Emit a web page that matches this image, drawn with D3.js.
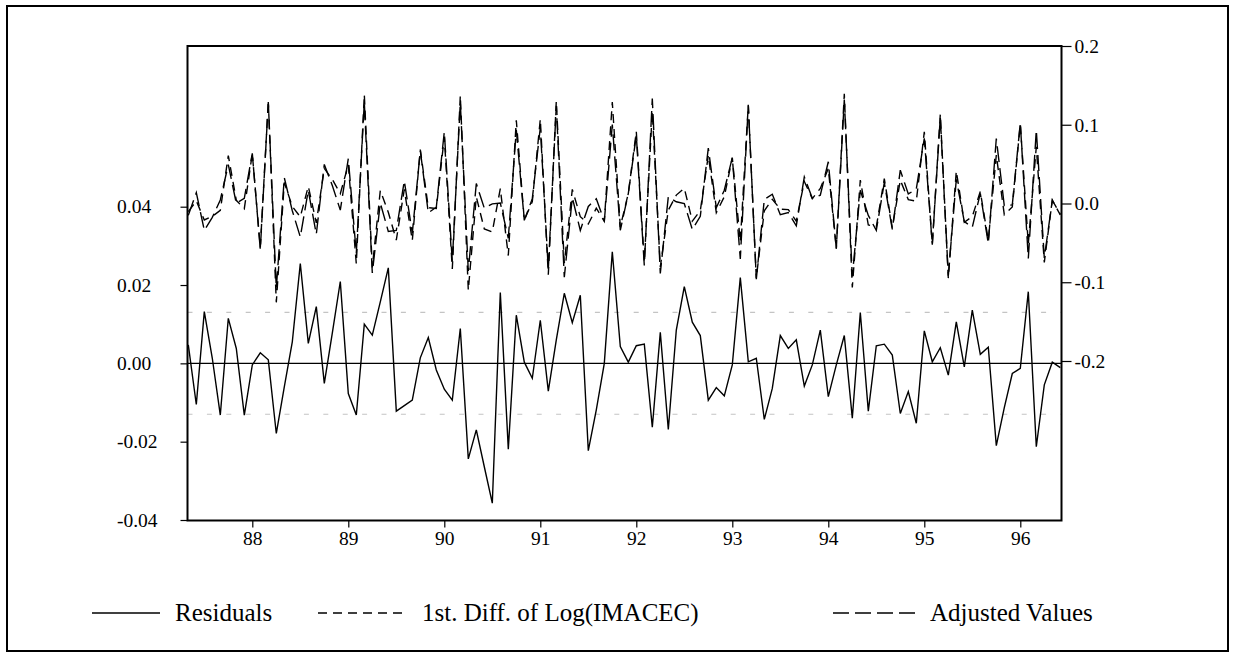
<!DOCTYPE html>
<html>
<head>
<meta charset="utf-8">
<script src="https://cdn.jsdelivr.net/npm/d3@7"></script>
<style>
  body { margin: 0; background: #fff; }
  text { font-family: "Liberation Serif", "Times New Roman", serif; font-size: 19.5px; fill: #000; }
</style>
</head>
<body>
<div id="chart-area"></div>
<script>
// monthly observations, 1987:05 - 1996:06 (index 0 = 1987:05)
var residuals = [
  0.0047, -0.0105, 0.0132, 0.0013, -0.0132, 0.0115, 0.0038, -0.0132, -0.0004, 0.0027,
  0.0009, -0.0179, -0.0060, 0.0055, 0.0255, 0.0051, 0.0145, -0.0051, 0.0077, 0.0209,
  -0.0077, -0.0132, 0.0100, 0.0072, 0.0157, 0.0244, -0.0122, -0.0108, -0.0094, 0.0014,
  0.0066, -0.0017, -0.0066, -0.0094, 0.0089, -0.0244, -0.0170, -0.0264, -0.0357, 0.0181,
  -0.0219, 0.0123, 0.0003, -0.0038, 0.0110, -0.0071, 0.0060, 0.0179, 0.0104, 0.0174,
  -0.0223, -0.0119, 0.0000, 0.0285, 0.0043, 0.0003, 0.0045, 0.0049, -0.0163, 0.0079,
  -0.0169, 0.0085, 0.0196, 0.0105, 0.0071, -0.0094, -0.0062, -0.0083, -0.0004, 0.0219,
  0.0004, 0.0013, -0.0143, -0.0064, 0.0071, 0.0038, 0.0060, -0.0058, -0.0004, 0.0085,
  -0.0085, -0.0004, 0.0071, -0.0140, 0.0130, -0.0122, 0.0045, 0.0049, 0.0021, -0.0128,
  -0.0072, -0.0153, 0.0083, 0.0004, 0.0040, -0.0030, 0.0106, -0.0009, 0.0136, 0.0023,
  0.0041, -0.0210, -0.0113, -0.0026, -0.0013, 0.0183, -0.0213, -0.0055, 0.0003, -0.0011
];

var actual = [
  -0.0104, 0.0033, -0.0209, -0.0163, -0.0087, 0.0609, 0.0040, -0.0066, 0.0634, -0.0559,
  0.1297, -0.1255, 0.0267, -0.0037, -0.0170, 0.0217, -0.0246, 0.0445, 0.0306, 0.0126,
  0.0492, -0.0765, 0.1385, -0.0811, 0.0164, -0.0111, -0.0464, 0.0179, -0.0471, 0.0685,
  -0.0052, -0.0064, 0.0844, -0.0831, 0.1371, -0.1101, 0.0084, -0.0323, -0.0361, 0.0188,
  -0.0661, 0.1058, -0.0211, 0.0023, 0.1072, -0.0905, 0.1301, -0.0758, 0.0179, -0.0167,
  -0.0260, -0.0060, -0.0225, 0.1287, -0.0297, 0.0129, 0.0913, -0.0739, 0.1169, -0.0808,
  -0.0085, 0.0107, 0.0195, -0.0223, -0.0092, 0.0610, -0.0116, 0.0086, 0.0579, -0.0484,
  0.1252, -0.0947, -0.0093, 0.0053, -0.0071, -0.0078, -0.0224, 0.0280, 0.0062, 0.0191,
  0.0445, -0.0574, 0.1392, -0.1066, 0.0298, -0.0273, -0.0296, 0.0315, -0.0308, 0.0296,
  0.0049, 0.0030, 0.0911, -0.0519, 0.1134, -0.0947, 0.0413, -0.0238, -0.0165, 0.0152,
  -0.0467, 0.0615, -0.0142, -0.0043, 0.1011, -0.0515, 0.0720, -0.0748, 0.0044, -0.0146
];

var fitted = [
  -0.0151, 0.0138, -0.0341, -0.0176, 0.0045, 0.0494, 0.0002, 0.0066, 0.0638, -0.0586,
  0.1288, -0.1076, 0.0327, -0.0092, -0.0425, 0.0166, -0.0391, 0.0496, 0.0229, -0.0084,
  0.0569, -0.0633, 0.1285, -0.0883, 0.0007, -0.0355, -0.0342, 0.0287, -0.0377, 0.0671,
  -0.0118, -0.0047, 0.0910, -0.0737, 0.1282, -0.0857, 0.0254, -0.0059, -0.0004, 0.0007,
  -0.0442, 0.0935, -0.0214, 0.0061, 0.0962, -0.0834, 0.1241, -0.0937, 0.0075, -0.0341,
  -0.0037, 0.0060, -0.0225, 0.1002, -0.0340, 0.0126, 0.0868, -0.0788, 0.1332, -0.0887,
  0.0085, 0.0022, -0.0001, -0.0328, -0.0163, 0.0704, -0.0054, 0.0169, 0.0583, -0.0703,
  0.1248, -0.0960, 0.0051, 0.0117, -0.0142, -0.0116, -0.0284, 0.0338, 0.0066, 0.0106,
  0.0530, -0.0570, 0.1321, -0.0926, 0.0168, -0.0151, -0.0341, 0.0266, -0.0329, 0.0424,
  0.0121, 0.0183, 0.0828, -0.0523, 0.1094, -0.0917, 0.0307, -0.0229, -0.0301, 0.0129,
  -0.0508, 0.0825, -0.0029, -0.0017, 0.1024, -0.0698, 0.0933, -0.0693, 0.0041, -0.0135
];

// January of each year, as index into the monthly series
var yearTicks = [8, 20, 32, 44, 56, 68, 80, 92, 104];
var yearLabels = ["88", "89", "90", "91", "92", "93", "94", "95", "96"];

var leftTicks = [-0.04, -0.02, 0, 0.02, 0.04];
var leftLabels = ["-0.04", "-0.02", "0.00", "0.02", "0.04"];
var rightTicks = [-0.2, -0.1, 0, 0.1, 0.2];
var rightLabels = ["-0.2", "-0.1", "0.0", "0.1", "0.2"];

var residSE = 0.013;
var legendNames = ["Residuals", "1st. Diff. of Log(IMACEC)", "Adjusted Values"];

// plot frame
var pLeft = 187.5, pRight = 1061.5, pTop = 46, pBottom = 520.5;

var svg = d3.select("#chart-area").append("svg")
    .attr("width", 1235)
    .attr("height", 660);

// outer border
svg.append("rect")
    .attr("x", 7).attr("y", 6)
    .attr("width", 1221).attr("height", 645)
    .attr("fill", "none").attr("stroke", "#000").attr("stroke-width", 2);

var x = d3.scaleLinear()
    .domain([0, residuals.length - 1])
    .range([188.3, 1060.3]);

var yL = d3.scaleLinear()
    .domain([-0.04, 0.04])
    .range([520, 206.7]);

var yR = d3.scaleLinear()
    .domain([-0.2, 0.2])
    .range([361, 46]);

svg.append("clipPath").attr("id", "plot-clip")
    .append("rect")
    .attr("x", pLeft).attr("y", pTop)
    .attr("width", pRight - pLeft).attr("height", pBottom - pTop);

var plot = svg.append("g").attr("clip-path", "url(#plot-clip)");

// +/- one standard error band of the residuals
plot.selectAll("line.band")
    .data([residSE, -residSE])
    .enter()
    .append("line")
    .attr("class", "band")
    .attr("x1", pLeft).attr("x2", pRight)
    .attr("y1", d => yL(d)).attr("y2", d => yL(d))
    .attr("stroke", "#c4c4c4")
    .attr("stroke-width", 1.2)
    .attr("stroke-dasharray", "5,14.4");

// zero line
plot.append("line")
    .attr("x1", pLeft).attr("x2", pRight)
    .attr("y1", yL(0)).attr("y2", yL(0))
    .attr("stroke", "#000").attr("stroke-width", 1.3);

var lineL = d3.line().x((d, i) => x(i)).y(d => yL(d));
var lineR = d3.line().x((d, i) => x(i)).y(d => yR(d));

plot.append("path")
    .datum(residuals)
    .attr("d", lineL)
    .attr("fill", "none").attr("stroke", "#000").attr("stroke-width", 1.4);

plot.append("path")
    .datum(actual)
    .attr("d", lineR)
    .attr("fill", "none").attr("stroke", "#000").attr("stroke-width", 1.4)
    .attr("stroke-dasharray", "9,6");

plot.append("path")
    .datum(fitted)
    .attr("d", lineR)
    .attr("fill", "none").attr("stroke", "#000").attr("stroke-width", 1.4)
    .attr("stroke-dasharray", "16,6");

// frame
svg.append("rect")
    .attr("x", pLeft).attr("y", pTop)
    .attr("width", pRight - pLeft).attr("height", pBottom - pTop)
    .attr("fill", "none").attr("stroke", "#000").attr("stroke-width", 2);

// axes
var xAxis = d3.axisBottom(x)
    .tickValues(yearTicks)
    .tickSize(7).tickPadding(4)
    .tickFormat((d, i) => yearLabels[i]);

var gx = svg.append("g")
    .attr("transform", "translate(0," + pBottom + ")")
    .call(xAxis);

var leftAxis = d3.axisLeft(yL)
    .tickValues(leftTicks)
    .tickSize(7)
    .tickFormat((d, i) => leftLabels[i]);

var gl = svg.append("g")
    .attr("transform", "translate(" + pLeft + ",0)")
    .call(leftAxis);
gl.selectAll("text")
    .attr("text-anchor", "start")
    .attr("x", 117 - pLeft);

var rightAxis = d3.axisRight(yR)
    .tickValues(rightTicks)
    .tickSize(10).tickPadding(3)
    .tickFormat((d, i) => rightLabels[i]);

var gr = svg.append("g")
    .attr("transform", "translate(" + pRight + ",0)")
    .call(rightAxis);

[gx, gl, gr].forEach(g => {
    g.select(".domain").remove();
    g.selectAll("line").attr("stroke", "#000").attr("stroke-width", 1.2);
    g.selectAll("text")
        .style("font-family", "'Liberation Serif', 'Times New Roman', serif")
        .style("font-size", "19.5px");
});

// legend
var legendLines = [
    { x1: 92, x2: 160, tx: 175, dash: null },
    { x1: 318, x2: 405, tx: 422, dash: "9,6" },
    { x1: 833, x2: 915, tx: 930, dash: "16,6" }
];

var legend = svg.append("g");
legend.selectAll("line")
    .data(legendLines)
    .enter()
    .append("line")
    .attr("x1", d => d.x1).attr("x2", d => d.x2)
    .attr("y1", 613).attr("y2", 613)
    .attr("stroke", "#000").attr("stroke-width", 1.3)
    .attr("stroke-dasharray", d => d.dash);

legend.selectAll("text")
    .data(legendLines)
    .enter()
    .append("text")
    .attr("x", d => d.tx)
    .attr("y", 621)
    .style("font-size", "25px")
    .text((d, i) => legendNames[i]);
</script>
</body>
</html>
